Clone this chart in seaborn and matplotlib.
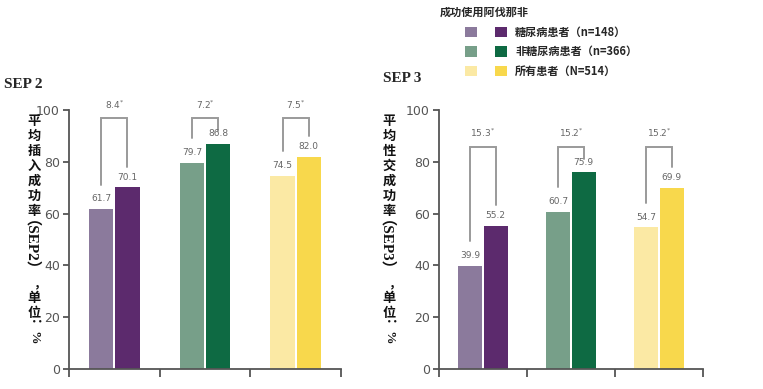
import matplotlib
matplotlib.use("Agg")
import matplotlib.pyplot as plt
import matplotlib.patches as mpatches
import pandas as pd
import seaborn as sns

# data
groups = ["糖尿病患者", "非糖尿病患者", "所有患者"]
legend_labels = ["糖尿病患者（n=148）", "非糖尿病患者（n=366）", "所有患者（N=514）"]
sep2_light = [61.7, 79.7, 74.5]
sep2_dark = [70.1, 86.8, 82.0]
sep2_diff = ["8.4", "7.2", "7.5"]
sep3_light = [39.9, 60.7, 54.7]
sep3_dark = [55.2, 75.9, 69.9]
sep3_diff = ["15.3", "15.2", "15.2"]
yticks = [0, 20, 40, 60, 80, 100]

light_colors = ["#8b7a9c", "#779f89", "#fbe9a4"]
dark_colors = ["#5c2a6d", "#0e6a43", "#f8d84c"]

W, H = 763, 389
CJK = ["Noto Sans CJK SC", "DejaVu Sans"]

sns.set_theme(style="white")
plt.rcParams["font.family"] = CJK

fig = plt.figure(figsize=(W / 100, H / 100), dpi=100)


def px(x, y):
    return x / W, 1 - y / H


def draw_panel(ax, light, dark, diff):
    df = pd.DataFrame({
        "group": groups * 2,
        "kind": ["light"] * 3 + ["dark"] * 3,
        "value": light + dark,
    })
    sns.barplot(data=df, x="group", y="value", hue="kind", hue_order=["light", "dark"],
                width=0.58, gap=0.07, legend=False, ax=ax, saturation=1)
    for h, cont in enumerate(ax.containers):
        for g, bar in enumerate(cont):
            bar.set_facecolor(light_colors[g] if h == 0 else dark_colors[g])
            bar.set_edgecolor("none")
            v = bar.get_height()
            ax.text(bar.get_x() + bar.get_width() / 2, v + 2.2, f"{v:.1f}",
                    ha="center", va="bottom", fontsize=6.5, color="#666666",
                    family="DejaVu Sans")
    top = max(light + dark) + 10
    for g in range(3):
        b1 = ax.containers[0][g]
        b2 = ax.containers[1][g]
        x1 = b1.get_x() + b1.get_width() / 2
        x2 = b2.get_x() + b2.get_width() / 2
        y1 = light[g] + 9.5
        y2 = min(dark[g] + 8, top - 5)
        ax.plot([x1, x1, x2, x2], [y1, top, top, y2], color="#9a9a9a", lw=1.4,
                clip_on=False, solid_joinstyle="miter")
        ax.text((x1 + x2) / 2, top + 3, diff[g] + "$^{*}$", ha="center", va="bottom",
                fontsize=6.5, color="#666666", family="DejaVu Sans", clip_on=False)
    ax.set_ylim(0, 100)
    ax.set_xlim(-0.5, 2.5)
    ax.set_yticks(yticks)
    ax.set_xticks([-0.5, 0.5, 1.5, 2.5])
    ax.set_xticklabels([])
    ax.set_xlabel("")
    ax.set_ylabel("")
    for s in ["top", "right"]:
        ax.spines[s].set_visible(False)
    for s in ["left", "bottom"]:
        ax.spines[s].set_color("#555555")
        ax.spines[s].set_linewidth(1.3)
    ax.tick_params(axis="y", length=4, width=1.3, color="#555555", labelcolor="#555555",
                   labelsize=9, pad=2.5, left=True)
    ax.tick_params(axis="x", length=6, width=1.3, color="#555555", bottom=True)
    for t in ax.get_yticklabels():
        t.set_family("DejaVu Sans")


def draw_ylabel(xc, upright, rotated, tail):
    y = 121
    for ch in upright:
        fig.text(*px(xc, y), ch, ha="center", va="center", fontsize=9.5,
                 fontweight="bold", color="#111111")
        y += 15
    # rotated run: (SEPx), then comma
    fig.text(*px(xc - 11, y + 27), rotated, ha="center", va="center", rotation=-90,
             fontsize=11, fontweight="bold", color="#111111",
             family=["Liberation Serif", "Noto Sans CJK SC"])
    fig.text(*px(xc + 6, y + 58), "，", ha="center", va="center", fontsize=9,
             fontweight="bold", color="#111111")
    y += 72
    for ch in tail:
        fig.text(*px(xc, y), ch, ha="center", va="center", fontsize=9.5,
                 fontweight="bold", color="#111111")
        y += 15
    fig.text(*px(xc - 1, y + 4), "：%", ha="center", va="center", rotation=-90,
             fontsize=9.5, fontweight="bold", color="#111111",
             family=["Liberation Serif", "Noto Sans CJK SC"])


ax1 = fig.add_axes([69 / W, 20 / H, 272 / W, 259 / H])
draw_panel(ax1, sep2_light, sep2_dark, sep2_diff)
ax2 = fig.add_axes([439 / W, 20 / H, 264 / W, 259 / H])
draw_panel(ax2, sep3_light, sep3_dark, sep3_diff)

fig.text(*px(4, 85), "SEP 2", ha="left", va="center", fontsize=11, fontweight="bold",
         family="Liberation Serif")
fig.text(*px(383, 78), "SEP 3", ha="left", va="center", fontsize=11, fontweight="bold",
         family="Liberation Serif")

draw_ylabel(34, "平均插入成功率", "（SEP2）", "单位")
draw_ylabel(389, "平均性交成功率", "（SEP3）", "单位")

# legend
fig.text(*px(440, 12), "成功使用阿伐那非", ha="left", va="center", fontsize=8,
         fontweight="bold")
for i, lab in enumerate(legend_labels):
    yc = 32 + i * 19.5
    for xl, c in [(465, light_colors[i]), (495, dark_colors[i])]:
        fig.patches.append(mpatches.Rectangle(px(xl, yc + 5), 12 / W, 10 / H,
                                              transform=fig.transFigure,
                                              facecolor=c, edgecolor="none"))
    fig.text(*px(515, yc), lab, ha="left", va="center", fontsize=8, fontweight="bold")

fig.savefig("out.png", dpi=100)
